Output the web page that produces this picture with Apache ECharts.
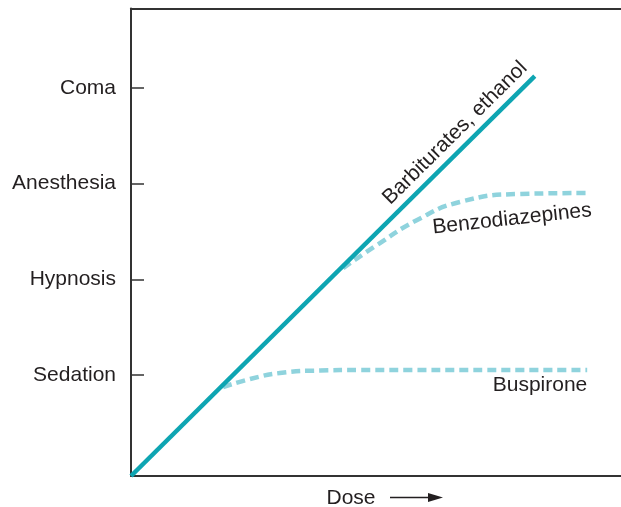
<!DOCTYPE html>
<html><head><meta charset="utf-8">
<script src="https://cdn.jsdelivr.net/npm/echarts@6/dist/echarts.min.js"></script>
<style>html,body{margin:0;padding:0;background:#fff}#c{width:621px;height:507px}</style>
</head><body><div id="c"></div>
<script>
// y levels
var levelNames = ['Sedation', 'Hypnosis', 'Anesthesia', 'Coma'];
var levelValues = [1, 2, 3, 4];
// series data: [dose, level]
var barbiturates = [[0, -0.055], [82.4, 4.124]];
var benzodiazepines = [[43.3, 2.118], [50.2, 2.358], [58.4, 2.62], [67.1, 2.808], [79.4, 2.892], [93.3, 2.902]];
var buspirone = [[18.8, 0.875], [24.3, 0.958], [30.4, 1.021], [38.6, 1.047], [46.7, 1.052], [93.1, 1.052]];
var seriesNames = ['Barbiturates, ethanol', 'Benzodiazepines', 'Buspirone'];
var xName = 'Dose';

var font = '"Liberation Sans", Arial, Helvetica, sans-serif';
var textColor = '#231f20';
var axisColor = '#333';
var chart = echarts.init(document.getElementById('c'), null, {renderer: 'canvas'});
chart.setOption({
  animation: false,
  grid: {left: 131, top: 8.5, bottom: 31, right: 0, show: false},
  xAxis: [
    {type: 'value', min: 0, max: 100, position: 'bottom', axisLine: {show: true, onZero: false, lineStyle: {color: axisColor, width: 2}}, axisTick: {show: false}, axisLabel: {show: false}, splitLine: {show: false}},
    {type: 'value', min: 0, max: 100, position: 'top', axisLine: {show: true, onZero: false, lineStyle: {color: axisColor, width: 2}}, axisTick: {show: false}, axisLabel: {show: false}, splitLine: {show: false}}
  ],
  yAxis: {
    type: 'value', min: -0.055, max: 4.83,
    axisLine: {show: true, onZero: false, lineStyle: {color: axisColor, width: 2}},
    splitLine: {show: false},
    axisTick: {show: true, inside: true, length: 13, customValues: levelValues, lineStyle: {color: axisColor, width: 1.5}},
    axisLabel: {show: true, customValues: levelValues, margin: 15, color: textColor, fontSize: 21, fontFamily: font,
      formatter: function (v) { var i = levelValues.indexOf(Math.round(v)); return i >= 0 ? levelNames[i] : ''; }}
  },
  series: [
    {name: seriesNames[2], type: 'line', data: buspirone, smooth: 0.5, showSymbol: false, z: 2,
      lineStyle: {color: '#8fd3dd', width: 4.5, type: [9, 5]}},
    {name: seriesNames[1], type: 'line', data: benzodiazepines, smooth: 0.5, showSymbol: false, z: 2,
      lineStyle: {color: '#8fd3dd', width: 4.5, type: [9, 5]}},
    {name: seriesNames[0], type: 'line', data: barbiturates, showSymbol: false, z: 3,
      lineStyle: {color: '#0ea5b2', width: 4.5}}
  ],
  graphic: [
    {type: 'text', x: 455, y: 133, rotation: Math.PI * 44.7 / 180, style: {text: seriesNames[0], fontSize: 21, fontFamily: font, fill: textColor, align: 'center', verticalAlign: 'middle'}},
    {type: 'text', x: 512, y: 219, rotation: Math.PI * 6.3 / 180, style: {text: seriesNames[1], fontSize: 21, fontFamily: font, fill: textColor, align: 'center', verticalAlign: 'middle'}},
    {type: 'text', x: 540, y: 385, style: {text: seriesNames[2], fontSize: 21, fontFamily: font, fill: textColor, align: 'center', verticalAlign: 'middle'}},
    {type: 'text', x: 351, y: 498, style: {text: xName, fontSize: 21, fontFamily: font, fill: textColor, align: 'center', verticalAlign: 'middle'}},
    {type: 'line', shape: {x1: 390, y1: 497.5, x2: 430, y2: 497.5}, style: {stroke: '#231f20', lineWidth: 1.3}},
    {type: 'polygon', shape: {points: [[428, 493], [443, 497.5], [428, 502]]}, style: {fill: '#231f20'}}
  ]
});
</script></body></html>
